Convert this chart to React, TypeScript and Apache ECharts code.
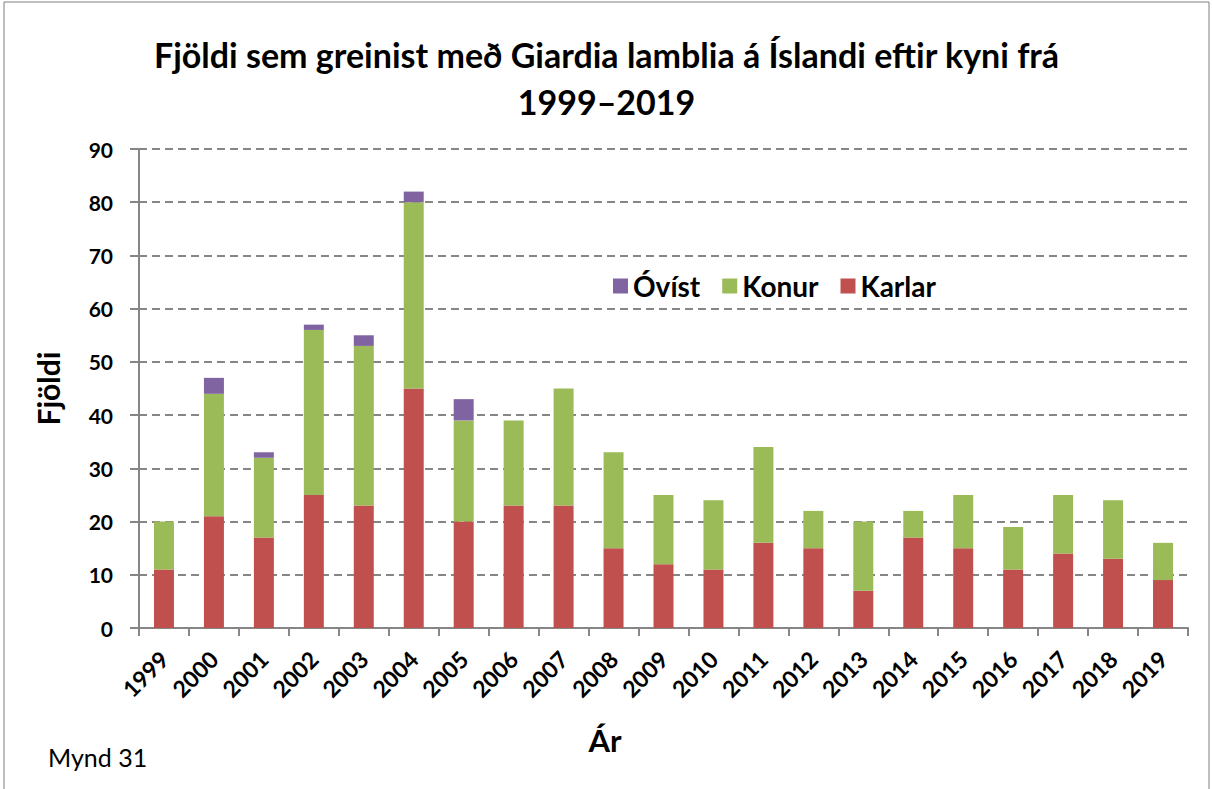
import React, { useEffect, useRef } from "react";
import * as echarts from "echarts";

const years = ["1999","2000","2001","2002","2003","2004","2005","2006","2007","2008","2009","2010","2011","2012","2013","2014","2015","2016","2017","2018","2019"];
const karlar = [11, 21, 17, 25, 23, 45, 20, 23, 23, 15, 12, 11, 16, 15, 7, 17, 15, 11, 14, 13, 9];
const konur = [9, 23, 15, 31, 30, 35, 19, 16, 22, 18, 13, 13, 18, 7, 13, 5, 10, 8, 11, 11, 7];
const ovist = [0, 3, 1, 1, 2, 2, 4, 0, 0, 0, 0, 0, 0, 0, 0, 0, 0, 0, 0, 0, 0];
const yTicks = [0, 10, 20, 30, 40, 50, 60, 70, 80, 90];

const FONT = "Lato";
const GRID_COLOR = "#868686";

export default function App() {
  const ref = useRef<HTMLDivElement>(null);
  useEffect(() => {
    if (!ref.current) return;
    const chart = echarts.init(ref.current, null, { renderer: "svg" });
    chart.setOption({
      animation: false,
      backgroundColor: "#ffffff",
      textStyle: { fontFamily: FONT },
      title: {
        text: "Fjöldi sem greinist með Giardia lamblia á Íslandi eftir kyni frá\n1999–2019",
        left: "center",
        top: 26,
        textStyle: { fontFamily: FONT, fontWeight: "bold", fontSize: 34, lineHeight: 47, color: "#000" },
      },
      legend: {
        data: ["Óvíst", "Konur", "Karlar"],
        left: 608,
        top: 267,
        icon: "rect",
        itemWidth: 15,
        itemHeight: 15,
        itemGap: 22,
        textStyle: { fontFamily: FONT, fontWeight: "bold", fontSize: 28, color: "#000" },
      },
      grid: { left: 139, right: 25, top: 149, bottom: 161, containLabel: false },
      xAxis: {
        type: "category",
        data: years,
        boundaryGap: true,
        axisLine: { lineStyle: { color: GRID_COLOR, width: 2 } },
        axisTick: { show: true, length: 8, lineStyle: { color: GRID_COLOR, width: 2 } },
        axisLabel: { rotate: 45, fontFamily: FONT, fontWeight: "bold", fontSize: 23, color: "#000", margin: 27, interval: 0 },
      },
      yAxis: {
        type: "value",
        min: yTicks[0],
        max: yTicks[yTicks.length - 1],
        interval: 10,
        name: "Fjöldi",
        nameLocation: "middle",
        nameGap: 76,
        nameRotate: 90,
        nameTextStyle: { fontFamily: FONT, fontWeight: "bold", fontSize: 30, color: "#000" },
        axisLine: { show: true, lineStyle: { color: GRID_COLOR, width: 2 } },
        axisTick: { show: true, length: 9, lineStyle: { color: GRID_COLOR, width: 2 } },
        axisLabel: { fontFamily: FONT, fontWeight: "bold", fontSize: 21, color: "#000", margin: 26 },
        splitLine: { show: true, lineStyle: { color: GRID_COLOR, width: 2, type: [8, 5] } },
      },
      series: [
        { name: "Karlar", type: "bar", stack: "a", data: karlar, barWidth: "40%", itemStyle: { color: "#C0504D" } },
        { name: "Konur", type: "bar", stack: "a", data: konur, barWidth: "40%", itemStyle: { color: "#9BBB59" } },
        { name: "Óvíst", type: "bar", stack: "a", data: ovist, barWidth: "40%", itemStyle: { color: "#8064A2" } },
      ],
      graphic: [
        { type: "rect", shape: { x: 4, y: 2, width: 1205, height: 800 }, style: { fill: "none", stroke: "#7f7f7f", lineWidth: 1 }, silent: true },
        { type: "text", x: 605, y: 740, style: { text: "Ár", fontFamily: FONT, fontWeight: "bold", fontSize: 31, fill: "#000", align: "center", verticalAlign: "middle" } },
        { type: "text", x: 48, y: 757, style: { text: "Mynd 31", fontFamily: FONT, fontSize: 25, fill: "#000", align: "left", verticalAlign: "middle" } },
      ],
    });
    return () => chart.dispose();
  }, []);
  return <div ref={ref} style={{ position: "fixed", left: 0, top: 0, width: 1213, height: 789 }} />;
}
